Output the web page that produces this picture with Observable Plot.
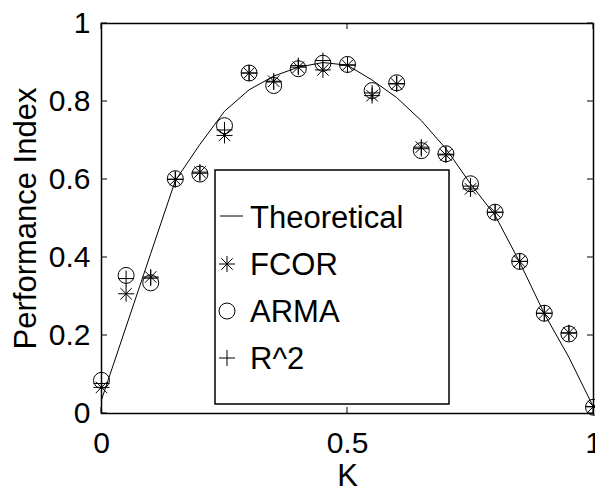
<!DOCTYPE html>
<html><head><meta charset="utf-8">
<script src="https://cdn.jsdelivr.net/npm/d3@7"></script>
<script src="https://cdn.jsdelivr.net/npm/@observablehq/plot@0.6"></script>
<style>body{margin:0;background:#fff;} #chart svg{display:block;}</style>
</head><body><div id="chart"></div>
<script>
// K values of the measured series
const K = [0, 0.05, 0.1, 0.15, 0.2, 0.25, 0.3, 0.35, 0.4, 0.45, 0.5, 0.55, 0.6, 0.65, 0.7, 0.75, 0.8, 0.85, 0.9, 0.95, 1];
const fcor = [0.067, 0.307, 0.350, 0.600, 0.619, 0.713, 0.873, 0.852, 0.888, 0.881, 0.893, 0.815, 0.845, 0.683, 0.663, 0.576, 0.516, 0.390, 0.257, 0.207, 0.018];
const arma = [0.085, 0.354, 0.335, 0.602, 0.614, 0.738, 0.873, 0.841, 0.884, 0.898, 0.895, 0.828, 0.848, 0.674, 0.666, 0.589, 0.516, 0.390, 0.257, 0.204, 0.016];
const r2   = [0.077, 0.346, 0.347, 0.601, 0.616, 0.727, 0.873, 0.850, 0.892, 0.905, 0.894, 0.822, 0.846, 0.679, 0.665, 0.583, 0.516, 0.390, 0.257, 0.206, 0.017];
// Theoretical curve
const kTheory = [0, 0.1, 0.15, 0.2, 0.25, 0.3, 0.35, 0.4, 0.45, 0.5, 0.55, 0.6, 0.65, 0.7, 0.75, 0.8, 0.85, 0.9, 0.95, 1];
const theory  = [0.035, 0.41, 0.597, 0.69, 0.775, 0.83, 0.865, 0.888, 0.9, 0.893, 0.855, 0.81, 0.751, 0.679, 0.589, 0.508, 0.388, 0.256, 0.144, 0.016];
// Ticks
const xTicks = [0, 0.5, 1];
const xTickLabels = ["0", "0.5", "1"];
const yTicks = [0, 0.2, 0.4, 0.6, 0.8, 1];
const yTickLabels = ["0", "0.2", "0.4", "0.6", "0.8", "1"];
const legendLabels = ["Theoretical", "FCOR", "ARMA", "R^2"];
const xLabel = "K";
const yLabel = "Performance Index";

const FONT = "Liberation Sans, Arial, Helvetica, sans-serif";

const asteriskSym = {draw(ctx, size) {
  const r = Math.sqrt(size / Math.PI), d = r * 0.72;
  ctx.moveTo(-r, 0); ctx.lineTo(r, 0);
  ctx.moveTo(0, -r); ctx.lineTo(0, r);
  ctx.moveTo(-d, -d); ctx.lineTo(d, d);
  ctx.moveTo(-d, d); ctx.lineTo(d, -d);
}};
const plusSym = {draw(ctx, size) {
  const r = Math.sqrt(size / Math.PI);
  ctx.moveTo(-r, 0); ctx.lineTo(r, 0);
  ctx.moveTo(0, -r); ctx.lineTo(0, r);
}};

const points = K.map((k, i) => ({k, fcor: fcor[i], arma: arma[i], r2: r2[i]}));
const curve = kTheory.map((k, i) => ({k, v: theory[i]}));
const R = 8;

function boxTicks(index, {x, y}, values, dims) {
  const g = d3.create("svg:g").attr("stroke", "black").attr("stroke-width", 1).attr("fill", "none");
  const l = dims.marginLeft, t = dims.marginTop;
  const r = dims.width - dims.marginRight, b = dims.height - dims.marginBottom;
  const len = 6;
  for (const v of xTicks) {
    const px = x(v);
    g.append("line").attr("x1", px).attr("x2", px).attr("y1", b).attr("y2", b - len);
    g.append("line").attr("x1", px).attr("x2", px).attr("y1", t).attr("y2", t + len);
  }
  for (const v of yTicks) {
    const py = y(v);
    g.append("line").attr("y1", py).attr("y2", py).attr("x1", l).attr("x2", l + len);
    g.append("line").attr("y1", py).attr("y2", py).attr("x1", r).attr("x2", r - len);
  }
  return g.node();
}

function legend(index, scales, values, dims) {
  const g = d3.create("svg:g");
  const bx = dims.marginLeft + 114, by = dims.marginTop + 147, bw = 234, bh = 234, step = 47;
  g.append("rect").attr("x", bx).attr("y", by).attr("width", bw).attr("height", bh)
    .attr("fill", "white").attr("stroke", "black").attr("stroke-width", 1.5);
  const syms = [null, asteriskSym, d3.symbolCircle, plusSym];
  legendLabels.forEach((lab, i) => {
    const cy = by + step * (i + 1);
    if (i === 0) {
      g.append("line").attr("x1", bx + 5).attr("x2", bx + 28).attr("y1", cy - 1).attr("y2", cy - 1)
        .attr("stroke", "black").attr("stroke-width", 1);
    } else {
      g.append("path").attr("transform", `translate(${bx + 12},${cy})`)
        .attr("d", d3.symbol(syms[i], Math.PI * R * R)())
        .attr("fill", "none").attr("stroke", "black").attr("stroke-width", 1);
    }
    g.append("text").attr("x", bx + 35).attr("y", cy + 11).attr("text-anchor", "start")
      .attr("font-family", FONT).attr("font-size", 31).attr("fill", "black").text(lab);
  });
  return g.node();
}

const chart = Plot.plot({
  width: 595,
  height: 491,
  marginLeft: 101,
  marginRight: 2,
  marginTop: 23,
  marginBottom: 78,
  style: {fontFamily: FONT, fontSize: "30px", background: "white", color: "black", overflow: "visible"},
  x: {domain: [0, 1], label: null},
  y: {domain: [0, 1], label: null},
  marks: [
    Plot.frame({stroke: "black", strokeWidth: 1.5}),
    boxTicks,
    Plot.axisX(xTicks, {tickSize: 0, tickPadding: 18, fontSize: 30, label: null,
      tickFormat: d => xTickLabels[xTicks.indexOf(d)]}),
    Plot.axisY(yTicks, {tickSize: 0, tickPadding: 11, fontSize: 30, label: null,
      tickFormat: d => yTickLabels[yTicks.indexOf(d)]}),
    Plot.text([xLabel], {frameAnchor: "bottom", dy: 63, fontSize: 31, text: d => d, fill: "black",
      textAnchor: "middle", lineAnchor: "middle"}),
    Plot.text([yLabel], {frameAnchor: "left", dx: -75, rotate: -90, fontSize: 31, text: d => d, fill: "black",
      textAnchor: "middle", lineAnchor: "middle"}),
    Plot.line(curve, {x: "k", y: "v", stroke: "black", strokeWidth: 1}),
    Plot.dot(points, {x: "k", y: "arma", r: R, symbol: d3.symbolCircle, fill: "none", stroke: "black", strokeWidth: 1}),
    Plot.dot(points, {x: "k", y: "fcor", r: R, symbol: asteriskSym, fill: "none", stroke: "black", strokeWidth: 1}),
    Plot.dot(points, {x: "k", y: "r2", r: R, symbol: plusSym, fill: "none", stroke: "black", strokeWidth: 1}),
    legend
  ]
});
document.getElementById("chart").appendChild(chart);
</script>
</body></html>
